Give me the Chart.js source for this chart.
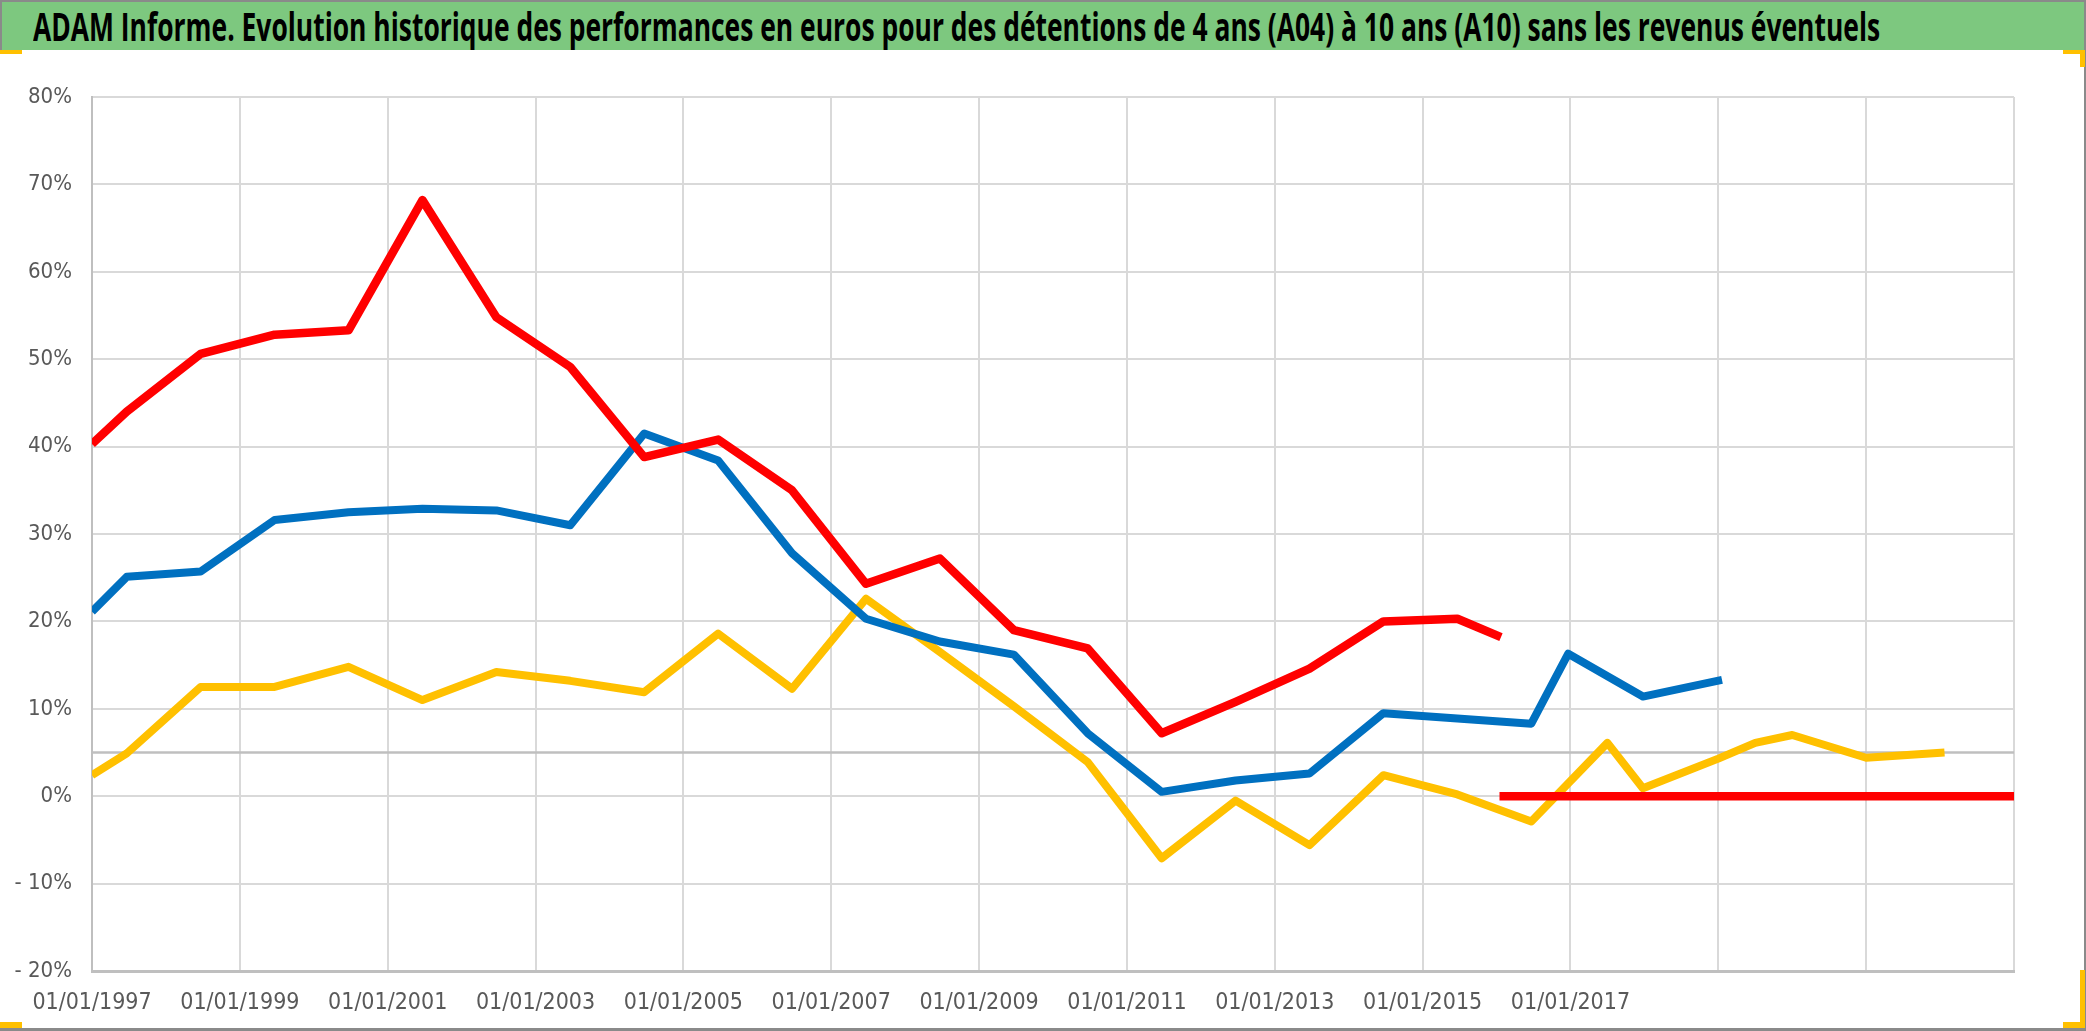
<!DOCTYPE html>
<html>
<head>
<meta charset="utf-8">
<script src="https://cdn.jsdelivr.net/npm/chart.js@4.4.1/dist/chart.umd.min.js"></script>
<style>
  html, body { margin: 0; padding: 0; background: #ffffff; }
  body { width: 2086px; height: 1031px; position: relative; overflow: hidden; }
  #frame { position: absolute; left: 0; top: 0; width: 2086px; height: 1031px; box-sizing: border-box;
           border-right: 2px solid #8a8a8a; border-bottom: 3px solid #8a8a8a; }
  #header { position: absolute; left: 0; top: 0; width: 2084px; height: 50px; box-sizing: border-box;
            background: #7DC87F; border-top: 2px solid #8a8a8a; border-left: 2px solid #8a8a8a; overflow: hidden; }
  #title { position: absolute; left: 31px; top: 1px; white-space: nowrap; transform-origin: 0 0;
           font-family: "Open Sans", "Liberation Sans", sans-serif; font-weight: 700; font-size: 39px;
           line-height: 46px; color: #000; }
  #wrap { position: absolute; left: 0; top: 50px; width: 2086px; height: 981px; }
  .mark { position: absolute; background: #FFC000; }
</style>
</head>
<body>
<div id="frame"></div>
<div id="header"><div id="title">ADAM Informe. Evolution historique des performances en euros pour des détentions de 4 ans (A04) à 10 ans (A10) sans les revenus éventuels</div></div>
<div id="wrap"><canvas id="c" width="2086" height="981"></canvas></div>
<div class="mark" style="left:0;top:50px;width:22px;height:4px"></div>
<div class="mark" style="left:2063px;top:50px;width:22px;height:4px"></div>
<div class="mark" style="left:2080px;top:50px;width:5px;height:17px"></div>
<div class="mark" style="left:2080px;top:970px;width:5px;height:58px"></div>
<div class="mark" style="left:2063px;top:1022px;width:22px;height:6px"></div>
<div class="mark" style="left:0;top:1022px;width:22px;height:6px"></div>
<script>
// ---- data (dates as decimal years, values in %) ----
const a10Dates  = [1997.0, 1997.47, 1998.47, 1999.47, 2000.47, 2001.47, 2002.47, 2003.47, 2004.47, 2005.47, 2006.47, 2007.47, 2008.47, 2009.47, 2010.47, 2011.47, 2012.47, 2013.47, 2014.47, 2015.47, 2016.06];
const a10Values = [40.3, 44.0, 50.6, 52.8, 53.3, 68.2, 54.8, 49.1, 38.8, 40.8, 35.0, 24.3, 27.2, 19.0, 16.9, 7.2, 10.8, 14.6, 20.0, 20.3, 18.2];

const a10TailDates  = [2016.04, 2017, 2018, 2019, 2020, 2021, 2022, 2023];
const a10TailValues = [0, 0, 0, 0, 0, 0, 0, 0];

const a07Dates  = [1997.0, 1997.47, 1998.47, 1999.47, 2000.47, 2001.47, 2002.47, 2003.47, 2004.47, 2005.47, 2006.47, 2007.47, 2008.47, 2009.47, 2010.47, 2011.47, 2012.47, 2013.47, 2014.47, 2015.47, 2016.47, 2016.97, 2017.98, 2019.05];
const a07Values = [21.1, 25.1, 25.7, 31.6, 32.5, 32.9, 32.7, 31.0, 41.5, 38.4, 27.8, 20.3, 17.7, 16.2, 7.2, 0.5, 1.8, 2.6, 9.5, 8.9, 8.3, 16.3, 11.4, 13.3];

const a04Dates  = [1997.0, 1997.47, 1998.47, 1999.47, 2000.47, 2001.47, 2002.47, 2003.47, 2004.47, 2005.47, 2006.47, 2007.47, 2008.47, 2009.47, 2010.47, 2011.47, 2012.47, 2013.47, 2014.47, 2015.47, 2016.47, 2017.5, 2017.98, 2019.0, 2019.5, 2020.0, 2021.0, 2022.06];
const a04Values = [2.4, 4.9, 12.5, 12.5, 14.8, 11.0, 14.2, 13.2, 11.9, 18.6, 12.3, 22.6, 16.5, 10.3, 3.9, -7.1, -0.5, -5.6, 2.4, 0.2, -2.9, 6.1, 0.9, 4.3, 6.1, 7.0, 4.4, 5.0];

const refDates  = [1997, 2023];
const refValues = [5, 5];

const yTicks      = [-20, -10, 0, 10, 20, 30, 40, 50, 60, 70, 80];
const xGridYears  = [1997, 1999, 2001, 2003, 2005, 2007, 2009, 2011, 2013, 2015, 2017, 2019, 2021, 2023];
const xLabelYears = [1997, 1999, 2001, 2003, 2005, 2007, 2009, 2011, 2013, 2015, 2017];

// ---- title fitting ----
const t = document.getElementById('title');
t.style.transform = 'scaleX(' + (1847 / t.scrollWidth) + ')';

function pts(xs, ys) { return xs.map((x, i) => ({ x: x, y: ys[i] })); }

const narrow = '"Liberation Sans Narrow", "DejaVu Sans Condensed", "Liberation Sans", sans-serif';

new Chart(document.getElementById('c'), {
  type: 'line',
  data: {
    datasets: [
      { label: 'A10', data: pts(a10Dates, a10Values), borderColor: '#FF0000', borderWidth: 8.5 },
      { label: 'A10 ', data: pts(a10TailDates, a10TailValues), borderColor: '#FF0000', borderWidth: 8.5 },
      { label: 'A07', data: pts(a07Dates, a07Values), borderColor: '#0070C0', borderWidth: 8 },
      { label: 'A04', data: pts(a04Dates, a04Values), borderColor: '#FFC000', borderWidth: 8 },
      { label: '5%', data: pts(refDates, refValues), borderColor: '#BFBFBF', borderWidth: 2.5 }
    ]
  },
  options: {
    responsive: false,
    devicePixelRatio: 1,
    animation: false,
    elements: { point: { radius: 0, hoverRadius: 0 }, line: { tension: 0, borderCapStyle: 'butt', borderJoinStyle: 'round', fill: false } },
    layout: { padding: { left: 0, right: 72, top: 47, bottom: 0 } },
    plugins: { legend: { display: false }, tooltip: { enabled: false }, title: { display: false } },
    scales: {
      x: {
        type: 'linear', min: 1997, max: 2023,
        afterBuildTicks: s => { s.ticks = xGridYears.map(v => ({ value: v })); },
        afterFit: s => { s.height = 60; },
        grid: { color: '#D9D9D9', lineWidth: 2, drawTicks: false },
        border: { color: '#BFBFBF', width: 3 },
        ticks: {
          autoSkip: false, maxRotation: 0, minRotation: 0, padding: 18, color: '#595959',
          font: { family: narrow, size: 23 },
          callback: v => xLabelYears.includes(v) ? '01/01/' + v : ''
        }
      },
      y: {
        type: 'linear', min: -20, max: 80,
        afterBuildTicks: s => { s.ticks = yTicks.map(v => ({ value: v })); },
        afterFit: s => { s.width = 92; },
        grid: { color: '#D9D9D9', lineWidth: 2, drawTicks: false },
        border: { color: '#BFBFBF', width: 2 },
        ticks: {
          padding: 20, color: '#595959', font: { family: narrow, size: 22 },
          callback: v => v < 0 ? '- ' + Math.abs(v) + '%' : v + '%'
        }
      }
    }
  }
});
</script>
</body>
</html>
